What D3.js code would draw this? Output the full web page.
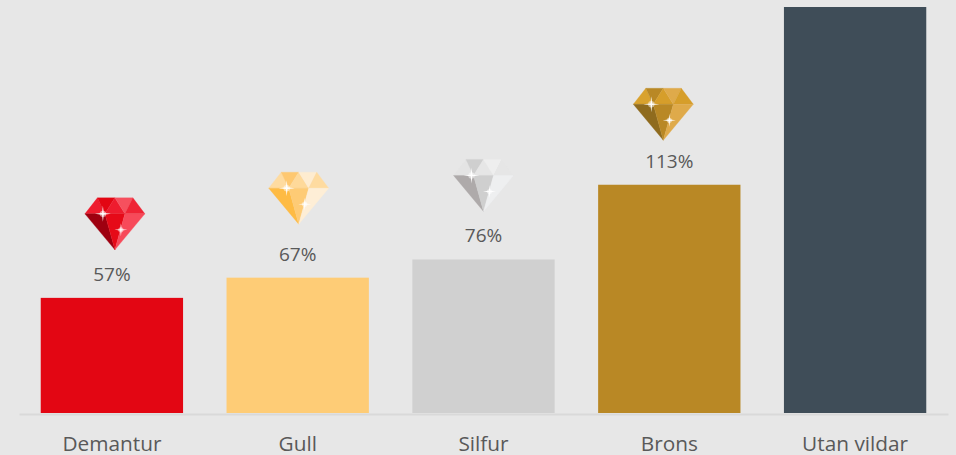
<!DOCTYPE html>
<html>
<head>
<meta charset="utf-8">
<script src="https://cdn.jsdelivr.net/npm/d3@7"></script>
<style>
html, body { margin: 0; padding: 0; background: #e7e7e7; overflow: hidden; }
svg { display: block; }
text { font-family: "Open Sans", sans-serif; fill: #595959; }
.domain { stroke: #d9d9d9; stroke-width: 2; }
</style>
</head>
<body>
<svg width="956" height="455"></svg>
<script>
var categories = ["Demantur", "Gull", "Silfur", "Brons", "Utan vildar"];
var values = [57, 67, 76, 113, 201];
var valueLabels = ["57%", "67%", "76%", "113%", ""];
var barColors = ["#e30613", "#fecc76", "#d0d0d0", "#b98825", "#3f4d58"];

// facet colours of each gem, same order as the facets list below
var gemColors = [
  ["#ee1c2e", "#e30613", "#ee1c2e", "#f6505e", "#ef2435", "#9e0010", "#e60a18", "#f74a5a"],
  ["#fedba0", "#fec870", "#fed99a", "#feecd0", "#fedba0", "#febb44", "#fecb75", "#feeed6"],
  ["#e4e4e4", "#cfcfcf", "#e6e6e6", "#eeeeee", "#e6e6e6", "#aeaaaa", "#cfcfcf", "#eeeff0"],
  ["#d9a22e", "#b98825", "#d69e2a", "#dfaa4a", "#d69e2a", "#8f6b1e", "#b98825", "#dfaa4a"]
];

// gem shape, in its own little coordinate system (top centre is 0,0)
var facets = [
  [[-17.5, 0], [-10, 16], [-30, 16]],
  [[-17.5, 0], [0, 0], [-10, 16]],
  [[0, 0], [10, 16], [-10, 16]],
  [[0, 0], [18, 0], [10, 16]],
  [[18, 0], [30, 16], [10, 16]],
  [[-30, 16], [-10, 16], [0, 52]],
  [[-10, 16], [10, 16], [0, 52]],
  [[10, 16], [30, 16], [0, 52]]
];

// gems do not sit exactly over their bars in the original
var gemShiftX = [3, 1, 0, -6];
var gemRaise = [100, 105.5, 100, 96.5];

var svg = d3.select("svg");
var width = +svg.attr("width"),
    height = +svg.attr("height");

var baseY = 413;

var x = d3.scaleBand()
    .domain(categories)
    .range([19, 948])
    .paddingInner(0.234)
    .paddingOuter(0.117);

var y = d3.scaleLinear()
    .domain([0, 201])
    .range([baseY, 7]);

svg.selectAll("rect.bar")
    .data(values)
  .enter().append("rect")
    .attr("class", "bar")
    .attr("x", function(d, i) { return x(categories[i]); })
    .attr("y", function(d) { return y(d); })
    .attr("width", x.bandwidth())
    .attr("height", function(d) { return y(0) - y(d); })
    .attr("fill", function(d, i) { return barColors[i]; });

var axis = svg.append("g")
    .attr("transform", "translate(0," + (baseY + 1) + ")")
    .call(d3.axisBottom(x).tickSize(0).tickPadding(22).tickSizeOuter(0));

axis.attr("font-family", null).attr("font-size", null);
axis.selectAll("text")
    .style("font-size", "20.8px");

svg.selectAll("text.value")
    .data(values)
  .enter().append("text")
    .attr("class", "value")
    .attr("x", function(d, i) { return x(categories[i]) + x.bandwidth() / 2; })
    .attr("y", function(d) { return y(d) - 17; })
    .attr("text-anchor", "middle")
    .style("font-size", "19px")
    .text(function(d, i) { return valueLabels[i]; });

var line = d3.line();

function sparkle(g, cx, cy, r) {
  var k = r * 0.1;
  var p = [[0, -r], [k, -k], [r, 0], [k, k], [0, r], [-k, k], [-r, 0], [-k, -k]];
  g.append("circle")
      .attr("cx", cx).attr("cy", cy).attr("r", r * 0.4)
      .attr("fill", "#fff").attr("opacity", 0.5);
  g.append("path")
      .attr("transform", "translate(" + cx + "," + cy + ")")
      .attr("d", line(p) + "Z")
      .attr("fill", "#fff");
}

var gems = svg.selectAll("g.gem")
    .data(gemColors)
  .enter().append("g")
    .attr("class", "gem")
    .attr("transform", function(d, i) {
      var cx = x(categories[i]) + x.bandwidth() / 2 + gemShiftX[i];
      return "translate(" + cx + "," + (y(values[i]) - gemRaise[i]) + ")";
    });

gems.each(function(colors) {
  var g = d3.select(this);
  facets.forEach(function(f, i) {
    g.append("path")
        .attr("d", line(f) + "Z")
        .attr("fill", colors[i])
        .attr("stroke", colors[i])
        .attr("stroke-width", 0.3);
  });
  sparkle(g, -12, 16, 8);
  sparkle(g, 6, 32, 6.5);
});
</script>
</body>
</html>
